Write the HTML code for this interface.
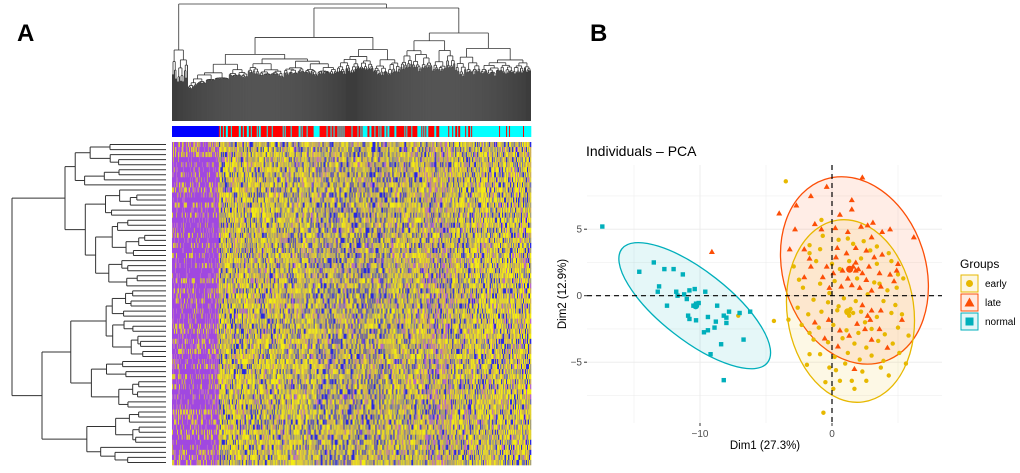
<!DOCTYPE html>
<html><head><meta charset="utf-8"><style>
html,body{margin:0;padding:0;background:#fff;width:1020px;height:473px;overflow:hidden;font-family:"Liberation Sans",sans-serif}
#root{position:relative;width:1020px;height:473px}
.lbl{position:absolute;font-weight:bold;font-size:24px}
</style></head><body>
<div id="root">
<div class="lbl" style="left:17px;top:20px">A</div>
<div class="lbl" style="left:590px;top:20px">B</div>
<svg id="hm" width="1020" height="473" style="position:absolute;left:0;top:0"></svg>
<svg id="pca" width="1020" height="473" style="position:absolute;left:0;top:0"></svg>
</div>
<script>
// ---------- PCA data (Dim1, Dim2) ----------
const normalPts=[[-17.4,5.2],[-14.6,1.8],[-13.5,2.5],[-12.7,2.0],[-12,2],[-11.3,1.6],[-13.1,0.7],[-13.2,0.3],[-12.5,-0.75],[-11.8,0.3],[-11.7,0],[-11.2,0.1],[-11,-0.25],[-10.8,0.4],[-10.4,0.5],[-10.5,-0.75],[-10.3,-0.6],[-10.1,-0.55],[-9.6,0.3],[-10.9,-1.5],[-10.8,-1.75],[-10.3,-1.85],[-9.4,-1.6],[-8.7,-0.75],[-8.8,-1.95],[-8.9,-2.4],[-9.4,-2.6],[-9.7,-2.75],[-8.2,-1.5],[-8,-1.65],[-8,-2.05],[-7.8,-1.2],[-7,-1.3],[-6.2,-1.2],[-6.7,-3.3],[-8.4,-3.65],[-9.2,-4.4],[-8.2,-6.35]];
const latePts=[[2.3,8.9],[-0.4,8.2],[-1.6,7.5],[-2.7,6.8],[-4,6.2],[1.5,7.2],[1.5,6.5],[0.6,6.1],[-2.8,5],[-1.3,5.4],[-0.8,5],[0.25,5.1],[1.2,4.8],[2.2,5.2],[2.7,5.3],[3.1,5.5],[3.8,4.8],[4.4,5],[6.2,4.4],[3,4.4],[-3.2,3.5],[-2.1,3.5],[-1.6,2.2],[-0.4,2.2],[0.3,2.9],[1.1,3.2],[1.8,3.6],[2.6,3.4],[3.2,2.9],[3.8,3.1],[5,2.4],[-0.7,1.4],[0.1,1.7],[0.8,1.9],[1.6,2.2],[1.8,1.9],[2.3,1.7],[2.8,2.2],[3.6,1.7],[4.4,1.6],[4.9,1.9],[-2.1,1.4],[-0.2,0.6],[0.7,0.7],[1.5,0.8],[2.1,0.6],[3,0.4],[3.7,0.7],[4.7,1.1],[2.3,-0.7],[3,-1.1],[3.7,-1.1],[2.7,-1.5],[5.3,-1.8],[-1.3,-2],[-0.25,-1.8],[0.6,-2.6],[1.3,-3],[2.5,-2.5],[3.6,-2.5],[-0.55,-3.2],[0.45,-3.8],[3,-3.3],[4.2,-3.9],[1.7,-5.5],[-9.1,3.3],[-1.7,2.8],[1.8,2.5],[2.0,2.0],[1.2,1.3],[2.6,1.2],[0.4,3.6],[2.9,-1.8],[1.9,-2.1]];
const earlyPts=[[-3.5,8.6],[-0.8,5.7],[-7.1,-1.5],[-4.4,-1.9],[-0.65,-8.8],[-3.3,-1.8],[-2.5,1.2],[-1.8,-1.4],[-1.7,3.2],[-1.7,-2.8],[-1.7,-4.4],[-0.2,-5.4],[0.3,-5.6],[0.6,-6.4],[1.5,-6.4],[2.6,-6.4],[3.7,-5.4],[5.6,-5.1],[5.1,-4.3],[5.3,-1.4],[5.4,1.3],[5,1.6],[1.2,4.3],[1.6,3.9],[-0.7,4.5],[-1.7,3.8],[-0.9,3.5],[0.5,4.2],[2.4,4.1],[3.4,3.7],[4.3,3.2],[-1.2,2.6],[0,2.4],[1.3,2.6],[2.2,2.8],[3.4,2.4],[4.5,2.6],[-2.2,0.6],[-0.9,0.9],[0.2,1.1],[1.9,1.3],[3.2,1.0],[4.2,0.4],[-1.4,-0.3],[-0.3,-0.5],[0.9,-0.2],[1.8,-0.4],[2.7,0.1],[3.9,-0.4],[4.8,-0.7],[-2.6,-0.9],[-0.8,-1.2],[0.4,-1.1],[1.4,-1.0],[1.6,-1.3],[1.3,-1.5],[2.2,-1.2],[3.4,-1.6],[4.5,-1.3],[-2.3,-2.2],[-1.0,-2.4],[0.1,-2.2],[1.1,-2.6],[2.0,-2.8],[3.0,-2.5],[4.0,-2.9],[5.0,-2.4],[-1.4,-3.3],[-0.3,-3.5],[0.8,-3.2],[1.7,-3.6],[2.6,-3.9],[3.5,-3.4],[4.6,-3.6],[-0.9,-4.4],[0.2,-4.6],[1.2,-4.3],[2.1,-4.8],[3.0,-4.5],[3.9,-4.9],[-1.9,-5.2],[1.0,-5.1],[2.3,-5.7],[4.3,-6.0],[0.1,-7.0],[1.7,-7.0],[-0.2,0.2],[0.5,-0.8],[2.5,-2.0],[3.6,0.9],[-2.9,2.2],[-0.5,-6.5],[5.8,-3.0],[4.9,0.6],[0.6,2.0],[2.9,3.4]];
const ellipses=[
 {g:'normal',cx:-10.4,cy:-0.75,a:7.0,b:2.6,ang:38},
 {g:'late',cx:1.7,cy:1.9,a:5.4,b:7.2,ang:-18},
 {g:'early',cx:1.4,cy:-1.15,a:4.8,b:6.9,ang:-8}];
const xTicks=[-10,0];
const yTicks=[-5,0,5];
const xGrid=[-15,-10,-5,0,5];
const yGrid=[-7.5,-5,-2.5,0,2.5,5,7.5];
const groups=['early','late','normal'];
const colors={early:'#E7B800',late:'#FC4E07',normal:'#00AFBB'};

const NS='http://www.w3.org/2000/svg';
function mk(p,t,at){const e=document.createElementNS(NS,t);for(const k in at)e.setAttribute(k,at[k]);p.appendChild(e);return e;}
const X=v=>832+v*13.2, Y=v=>295.7-v*13.3;
const pca=document.getElementById('pca');
const PL=587,PR=942,PT=165,PB=423;
let r=mk(pca,'rect',{x:PL,y:PT,width:PR-PL,height:PB-PT,fill:'#fff'});

xGrid.forEach(v=>{let l=mk(pca,'line',{x1:X(v),x2:X(v),y1:PT,y2:PB,stroke:'#ebebeb','stroke-width':v%10==0?0.9:0.5});
});
yGrid.forEach(v=>{let l=mk(pca,'line',{x1:PL,x2:PR,y1:Y(v),y2:Y(v),stroke:'#ebebeb','stroke-width':v%5==0?0.9:0.5});
});
ellipses.forEach(e=>{const c=colors[e.g];
 let el=mk(pca,'ellipse',{cx:X(e.cx),cy:Y(e.cy),rx:e.a*13.2,ry:e.b*13.3,fill:c,'fill-opacity':0.1,stroke:c,'stroke-width':1.3,transform:`rotate(${e.ang} ${X(e.cx)} ${Y(e.cy)})`});
 });
earlyPts.forEach(p=>{let c=mk(pca,'circle',{cx:X(p[0]),cy:Y(p[1]),r:2.2,fill:colors.early});
 });
latePts.forEach(p=>{const x=X(p[0]),y=Y(p[1]);let t=mk(pca,'polygon',{points:`${x},${y-3} ${x-3},${y+2.2} ${x+3},${y+2.2}`,fill:colors.late});
 });
normalPts.forEach(p=>{let s=mk(pca,'rect',{x:X(p[0])-2.2,y:Y(p[1])-2.2,width:4.4,height:4.4,fill:colors.normal});
 });
[[earlyPts,'early'],[latePts,'late'],[normalPts,'normal']].forEach(([a,g])=>{let mx=0,my=0;a.forEach(p=>{mx+=p[0];my+=p[1]});mx/=a.length;my/=a.length;
 let m=mk(pca,'circle',{cx:X(mx),cy:Y(my),r:3.5,fill:colors[g]});});
let h=mk(pca,'line',{x1:PL,x2:PR,y1:Y(0),y2:Y(0),stroke:'#000','stroke-width':1.2,'stroke-dasharray':'5,4'});

let v=mk(pca,'line',{x1:X(0),x2:X(0),y1:PT,y2:PB,stroke:'#000','stroke-width':1.2,'stroke-dasharray':'5,4'});

xTicks.forEach(t=>{let l=mk(pca,'line',{x1:X(t),x2:X(t),y1:PB,y2:PB+3,stroke:'#333'});
 let tx=mk(pca,'text',{x:X(t),y:PB+14,'font-size':10,fill:'#4d4d4d','text-anchor':'middle'});tx.textContent=t<0?'\u2212'+(-t):t;});
yTicks.forEach(t=>{let l=mk(pca,'line',{x1:PL-3,x2:PL,y1:Y(t),y2:Y(t),stroke:'#333'});
 let tx=mk(pca,'text',{x:PL-5,y:Y(t)+3.5,'font-size':10,fill:'#4d4d4d','text-anchor':'end'});tx.textContent=t<0?'\u2212'+(-t):t;});
let tt=mk(pca,'text',{x:586,y:156,'font-size':14,fill:'#000'});tt.textContent='Individuals \u2013 PCA';
let xt=mk(pca,'text',{x:765,y:449,'font-size':11.5,fill:'#000','text-anchor':'middle'});xt.textContent='Dim1 (27.3%)';
let yt=mk(pca,'text',{x:0,y:0,'font-size':11.5,fill:'#000','text-anchor':'middle',transform:`translate(566,294) rotate(-90)`});yt.textContent='Dim2 (12.9%)';
let lg=mk(pca,'text',{x:960,y:268,'font-size':12,fill:'#000'});lg.textContent='Groups';
groups.forEach((g,i)=>{const y=275+i*19,c=colors[g];
 let b=mk(pca,'rect',{x:961,y:y,width:17,height:17,fill:c,'fill-opacity':0.12,stroke:c,'stroke-width':1});
 let s;if(g=='early')s=mk(pca,'circle',{cx:969.5,cy:y+8.5,r:3.5,fill:c});
 else if(g=='late')s=mk(pca,'polygon',{points:`969.5,${y+3.5} 964.5,${y+12.5} 974.5,${y+12.5}`,fill:c});
 else s=mk(pca,'rect',{x:965.5,y:y+4.5,width:8,height:8,fill:c});
 
 let t=mk(pca,'text',{x:985,y:y+12,'font-size':10,fill:'#000'});t.textContent=g;});

// ---------- Heatmap panel (texture) ----------
const hm=document.getElementById('hm');
let seed=7;function rnd(){seed=(seed*16807)%2147483647;return seed/2147483647;}
const HL=172,HR=531,HT=142,HB=465,NC=360,NR=64;
const cw=(HR-HL)/NC, rh=(HB-HT)/NR;
const cb=mk(hm,'g',{});
for(let i=0;i<NC;i++){let c;const f=i/NC;
 if(f<0.13)c='#0000ff';else if(f<0.72){c=rnd()<0.72?'#ff0000':'#00ffff';}else{c=rnd()<0.22?'#ff0000':'#00ffff';}
 mk(cb,'rect',{x:HL+i*cw,y:126,width:cw+0.3,height:11,fill:c});}
const g=mk(hm,'g',{});
const pal=['#a048e0','#b868c8','#c8a060','#d0b050','#f4ec10','#e0d030','#a8a070','#7070b0','#2828e0'];
for(let j=0;j<NR;j++){const rowP=0.35+0.45*rnd();for(let i=0;i<NC;i++){const f=i/NC;let u=rnd();let k;
 if(f<0.13){k=u<rowP?0:(u<rowP+0.2?1:(u<rowP+0.35?2:5));}
 else{let blue=(f>0.4&&f<0.6)?0.2:0.11;let purp=(f>0.7&&f<0.78)?0.18:0.05;
  if(u<blue)k=8;else if(u<blue+0.07)k=7;else if(u<blue+0.07+purp)k=1;else if(u<0.45)k=4;else if(u<0.62)k=5;else if(u<0.8)k=6;else k=3;}
 mk(g,'rect',{x:HL+i*cw,y:HT+j*rh,width:cw+0.3,height:rh+0.3,fill:pal[k]});}}
// top dendrogram
const td=mk(hm,'g',{});
const LC='#333';
function leafTop(i){const f=i/NC;return f<0.13?100-40*(f/0.13)*0.0+(-f*60):62+rnd()*18;}
function treeTop(lo,hi,y,py){
 if(hi-lo<=1){const x=HL+(lo+0.5)*cw;mk(td,'line',{x1:x,x2:x,y1:py,y2:121,stroke:'#3c3c3c','stroke-width':1});return x;}
 const s=lo+Math.max(1,Math.round((hi-lo)*(0.3+rnd()*0.4)));
 const bottom=(lo/NC<0.12)?100-lo*0.6:72+rnd()*10;
 const avail=Math.max(1,bottom-y);
 const ya=y+avail*(0.12+rnd()*0.25), yb=y+avail*(0.12+rnd()*0.25);
 const xa=treeTop(lo,s,ya,y), xb=treeTop(s,hi,yb,y);
 mk(td,'line',{x1:xa,x2:xb,y1:y,y2:y,stroke:LC,'stroke-width':0.8});
 const x=(xa+xb)/2;
 mk(td,'line',{x1:x,x2:x,y1:py,y2:y,stroke:LC,'stroke-width':0.8});
 return x;}
seed=11;
(function(){
 const a=treeTop(0,16,50,50), b=treeTop(16,NC,8,8);
 mk(td,'line',{x1:a,x2:b,y1:4,y2:4,stroke:LC,'stroke-width':0.8});
 mk(td,'line',{x1:a,x2:a,y1:4,y2:50,stroke:LC,'stroke-width':0.8});
 mk(td,'line',{x1:b,x2:b,y1:4,y2:8,stroke:LC,'stroke-width':0.8});})();
// left dendrogram
const ld=mk(hm,'g',{});
seed=23;
function treeLeft(lo,hi,x,px){
 if(hi-lo<=1){const y=HT+(lo+0.5)*rh;mk(ld,'line',{x1:px,x2:166,y1:y,y2:y,stroke:LC,'stroke-width':1});return y;}
 const s=lo+Math.max(1,Math.round((hi-lo)*(0.3+rnd()*0.4)));
 const avail=160-x;
 const xa=x+avail*(0.1+rnd()*0.3), xb=x+avail*(0.1+rnd()*0.3);
 const ya=treeLeft(lo,s,xa,x), yb=treeLeft(s,hi,xb,x);
 mk(ld,'line',{x1:x,x2:x,y1:ya,y2:yb,stroke:LC,'stroke-width':1});
 const y=(ya+yb)/2;
 mk(ld,'line',{x1:px,x2:x,y1:y,y2:y,stroke:LC,'stroke-width':1});
 return y;}
(function(){const ya=treeLeft(0,29,65,12),yb=treeLeft(29,NR,42,12);
 mk(ld,'line',{x1:12,x2:12,y1:ya,y2:yb,stroke:LC,'stroke-width':1});})();
</script>
</body></html>
